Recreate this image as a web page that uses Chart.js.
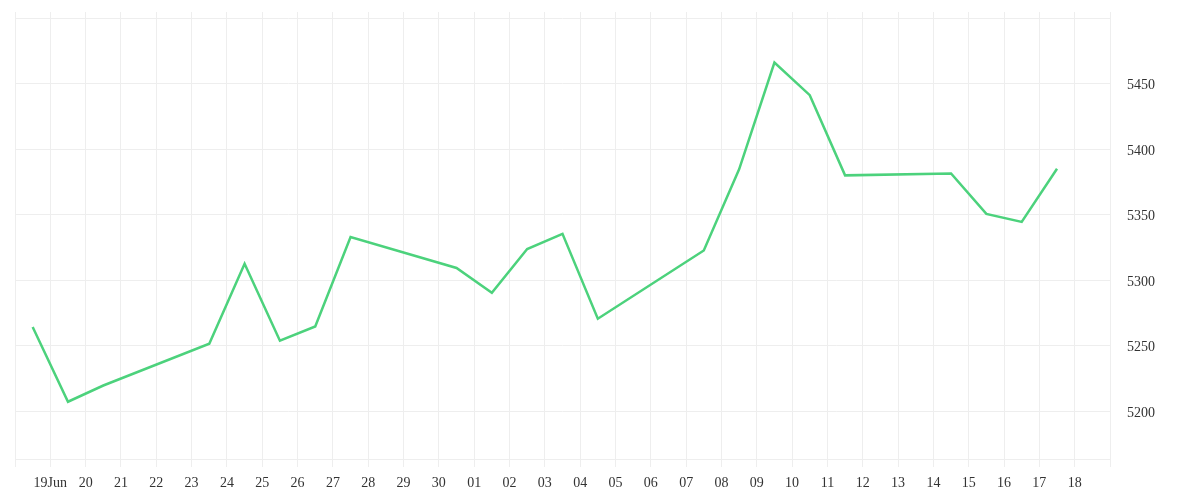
<!DOCTYPE html>
<html lang="en">
<head>
    <meta charset="UTF-8">
    <title>Daily close</title>
    <script src="https://cdn.jsdelivr.net/npm/chart.js"></script>
    <style>
        html, body {
            margin: 0;
            padding: 0;
            background: #ffffff;
        }
        .wrap {
            width: 1200px;
            height: 500px;
            position: relative;
        }
    </style>
</head>
<body>
<div class="wrap">
    <canvas id="priceChart"></canvas>
</div>
<script>
    // first day on the axis (left edge), one tick per day after it
    const axisStart = '2024-06-18';
    const tickLabels = ['', '19Jun', '20', '21', '22', '23', '24', '25', '26', '27', '28', '29', '30',
        '01', '02', '03', '04', '05', '06', '07', '08', '09', '10', '11', '12', '13', '14', '15', '16', '17', '18', ''];

    // trading days and closing values
    const dates = ['2024-06-19', '2024-06-20', '2024-06-21', '2024-06-24', '2024-06-25', '2024-06-26',
        '2024-06-27', '2024-06-28', '2024-07-01', '2024-07-02', '2024-07-03', '2024-07-04', '2024-07-05',
        '2024-07-08', '2024-07-09', '2024-07-10', '2024-07-11', '2024-07-12', '2024-07-15', '2024-07-16',
        '2024-07-17', '2024-07-18'];
    const closes = [5264.1, 5207.1, 5219.5, 5251.4, 5312.4, 5253.7, 5264.6, 5332.8, 5309.2, 5290.3,
        5323.7, 5335.3, 5270.5, 5322.6, 5384.5, 5466.0, 5441.1, 5379.9, 5381.4, 5350.5, 5344.4, 5385.0];

    const yTicks = [5200, 5250, 5300, 5350, 5400, 5450];

    // each point sits half a day before its day tick
    const DAY = 86400000;
    function dayIndex(d) {
        return (Date.parse(d) - Date.parse(axisStart)) / DAY;
    }
    const points = dates.map((d, i) => ({ x: dayIndex(d) - 0.5, y: closes[i] }));

    Chart.defaults.font.family = '"Liberation Serif", "DejaVu Serif", serif';
    Chart.defaults.font.size = 14;
    Chart.defaults.color = '#333333';

    const gridColor = '#eeeeee';

    new Chart(document.getElementById('priceChart'), {
        type: 'line',
        data: {
            datasets: [{
                data: points,
                borderColor: '#4cd27c',
                borderWidth: 2.5,
                pointRadius: 0,
                pointHoverRadius: 0,
                tension: 0,
                fill: false
            }]
        },
        options: {
            responsive: true,
            maintainAspectRatio: false,
            animation: false,
            layout: { padding: { left: 15, top: 12, right: 0, bottom: 0 } },
            plugins: {
                legend: { display: false },
                tooltip: { enabled: false }
            },
            scales: {
                x: {
                    type: 'linear',
                    min: 0,
                    max: tickLabels.length - 1,
                    afterFit: (scale) => {
                        scale.height = 41;
                        scale.paddingLeft = 0;
                        scale.paddingRight = 0;
                    },
                    grid: { color: gridColor, tickLength: 8, tickColor: gridColor },
                    border: { color: gridColor },
                    ticks: {
                        stepSize: 1,
                        autoSkip: false,
                        maxRotation: 0,
                        padding: 8,
                        callback: (v) => tickLabels[v] ?? ''
                    }
                },
                y: {
                    position: 'right',
                    min: 5163.4,
                    max: 5504.6,
                    afterFit: (scale) => {
                        scale.width = 90;
                        scale.paddingTop = 0;
                        scale.paddingBottom = 0;
                    },
                    grid: { color: gridColor, drawTicks: false },
                    border: { display: false },
                    ticks: {
                        stepSize: 50,
                        includeBounds: false,
                        padding: 17,
                        labelOffset: 2,
                        callback: (v) => yTicks.includes(v) ? String(v) : ''
                    }
                }
            }
        }
    });
</script>
</body>
</html>
